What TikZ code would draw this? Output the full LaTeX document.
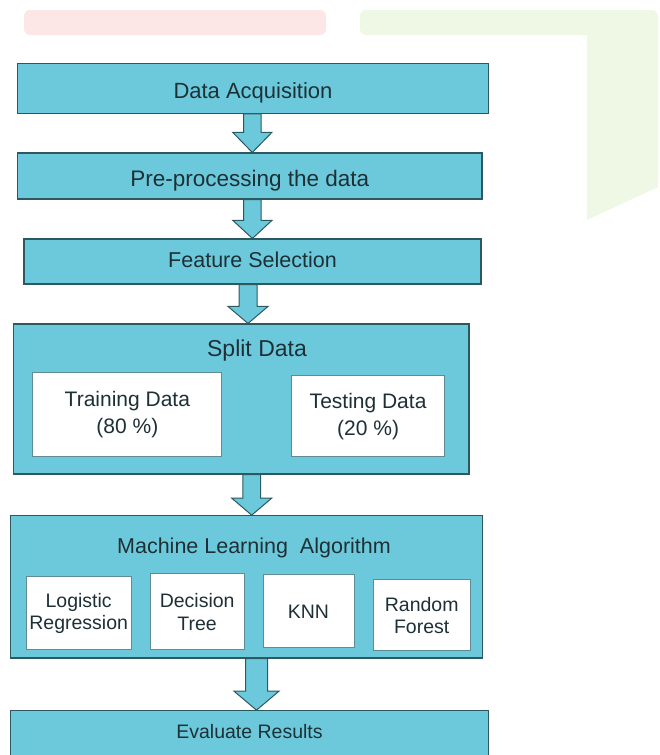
\documentclass[tikz,border=0pt]{standalone}
\usepackage{fontspec}
\setmainfont{Liberation Sans}
\usetikzlibrary{positioning, calc}

\definecolor{boxfill}{RGB}{108,201,219}
\definecolor{boxline}{RGB}{44,88,96}
\definecolor{subline}{RGB}{95,140,148}
\definecolor{textdark}{RGB}{30,48,54}
\definecolor{wmpink}{RGB}{252,230,230}
\definecolor{wmgreen}{RGB}{238,248,228}

\begin{document}
\begin{tikzpicture}[
        x=1pt, y=-1pt,
        node distance=40pt,
        stage/.style={rectangle, draw=boxline, fill=boxfill, line width=1.1pt, text=textdark,
                      inner sep=0pt, align=center, font=\fontsize{21}{25}\selectfont},
        title/.style={text=textdark, inner sep=0pt, font=\fontsize{21.5}{25}\selectfont},
        algo/.style={rectangle, draw=subline, fill=white, line width=0.8pt, text=textdark,
                     align=center, inner sep=0pt, font=\fontsize{19.5}{22.5}\selectfont},
        blockarrow/.style={draw=boxline, fill=boxfill, line width=1pt, line join=miter}
    ]
        \useasboundingbox (0,0) rectangle (659,755);

        % faint watermark behind the chart
        \fill[wmpink, rounded corners=6pt] (24,10) rectangle (326,35);
        \fill[wmgreen, rounded corners=6pt] (360,10) rectangle (658,35);
        \fill[wmgreen] (587,30) -- (658,30) -- (658,187) -- (587,220) -- cycle;

        \node[stage, minimum width=471pt, minimum height=50pt, text height=19.8pt, text depth=0pt, font=\fontsize{22}{26}\selectfont] (acq) at (253,88.3) {Data Acquisition};
        \node[stage, minimum width=464.4pt, minimum height=46pt, text height=21.5pt, text depth=0pt, font=\fontsize{22.5}{26}\selectfont, below=38.6pt of acq, xshift=-3.2pt] (prep) {Pre-processing the data};
        \node[stage, minimum width=457pt, minimum height=45pt, text height=11.4pt, text depth=0pt, font=\fontsize{21.5}{25}\selectfont, below=38.9pt of prep, xshift=2.7pt] (feat) {Feature Selection};

        \node[stage, minimum width=455.6pt, minimum height=150pt, below=38.9pt of feat, xshift=-11.3pt] (split) {};
        \node[title, font=\fontsize{23}{27}\selectfont] (splittitle) at ([xshift=15.8pt, yshift=-27pt]split.north) {Split Data};
        \node[algo, anchor=north west, minimum width=189pt, minimum height=84pt, font=\fontsize{21}{27}\selectfont] (train) at ([xshift=19.6pt, yshift=-49pt]split.north west) {Training Data\\(80 \%)};
        \node[algo, minimum width=152.5pt, minimum height=81pt, font=\fontsize{21}{27}\selectfont, right=69.2pt of train, yshift=-1.5pt] (test) {Testing Data\\(20 \%)};

        \node[stage, minimum width=471.5pt, minimum height=142.3pt, below=40.6pt of split, xshift=5.1pt] (ml) {};
        \node[title] (mltitle) at ([xshift=7.7pt, yshift=-33pt]ml.north) {Machine Learning\ \ Algorithm};
        \node[algo, anchor=north west, minimum width=105.5pt, minimum height=73pt] (logit) at ([xshift=15.5pt, yshift=-61.3pt]ml.north west) {Logistic\\Regression};
        \node[algo, minimum width=94.5pt, minimum height=76pt, right=17.7pt of logit, yshift=1.5pt] (dtree) {Decision\\Tree};
        \node[algo, minimum width=91pt, minimum height=73pt, right=17.7pt of dtree, yshift=0.5pt] (knn) {KNN};
        \node[algo, minimum width=97.6pt, minimum height=71pt, right=18.2pt of knn, yshift=-4pt] (rforest) {Random\\Forest};

        \node[stage, minimum width=478pt, minimum height=60pt, below=51.6pt of ml, xshift=3.2pt] (eval) {};
        \node[title, font=\fontsize{19.5}{23}\selectfont] (evaltitle) at ([yshift=-21pt]eval.north) {Evaluate Results};

        % block arrows: source/target/offset/shaft/head/head length
        \foreach \src/\dst/\dx/\sw/\hw/\hl in {acq/prep/-0.7/8.7/19.5/20, prep/feat/2.6/8.7/19.5/18,
                feat/split/-4.5/9/20/17, split/ml/10.5/8.8/20/17, ml/eval/10.2/11/22.5/19}
            \draw[blockarrow] let \p1=($(\src.south)+(\dx pt,0pt)$), \p2=(\dst.north) in
                (\x1-\sw pt,\y1) -- (\x1-\sw pt,\y2+\hl pt) -- (\x1-\hw pt,\y2+\hl pt) -- (\x1,\y2)
                -- (\x1+\hw pt,\y2+\hl pt) -- (\x1+\sw pt,\y2+\hl pt) -- (\x1+\sw pt,\y1) -- cycle;
\end{tikzpicture}
\end{document}
